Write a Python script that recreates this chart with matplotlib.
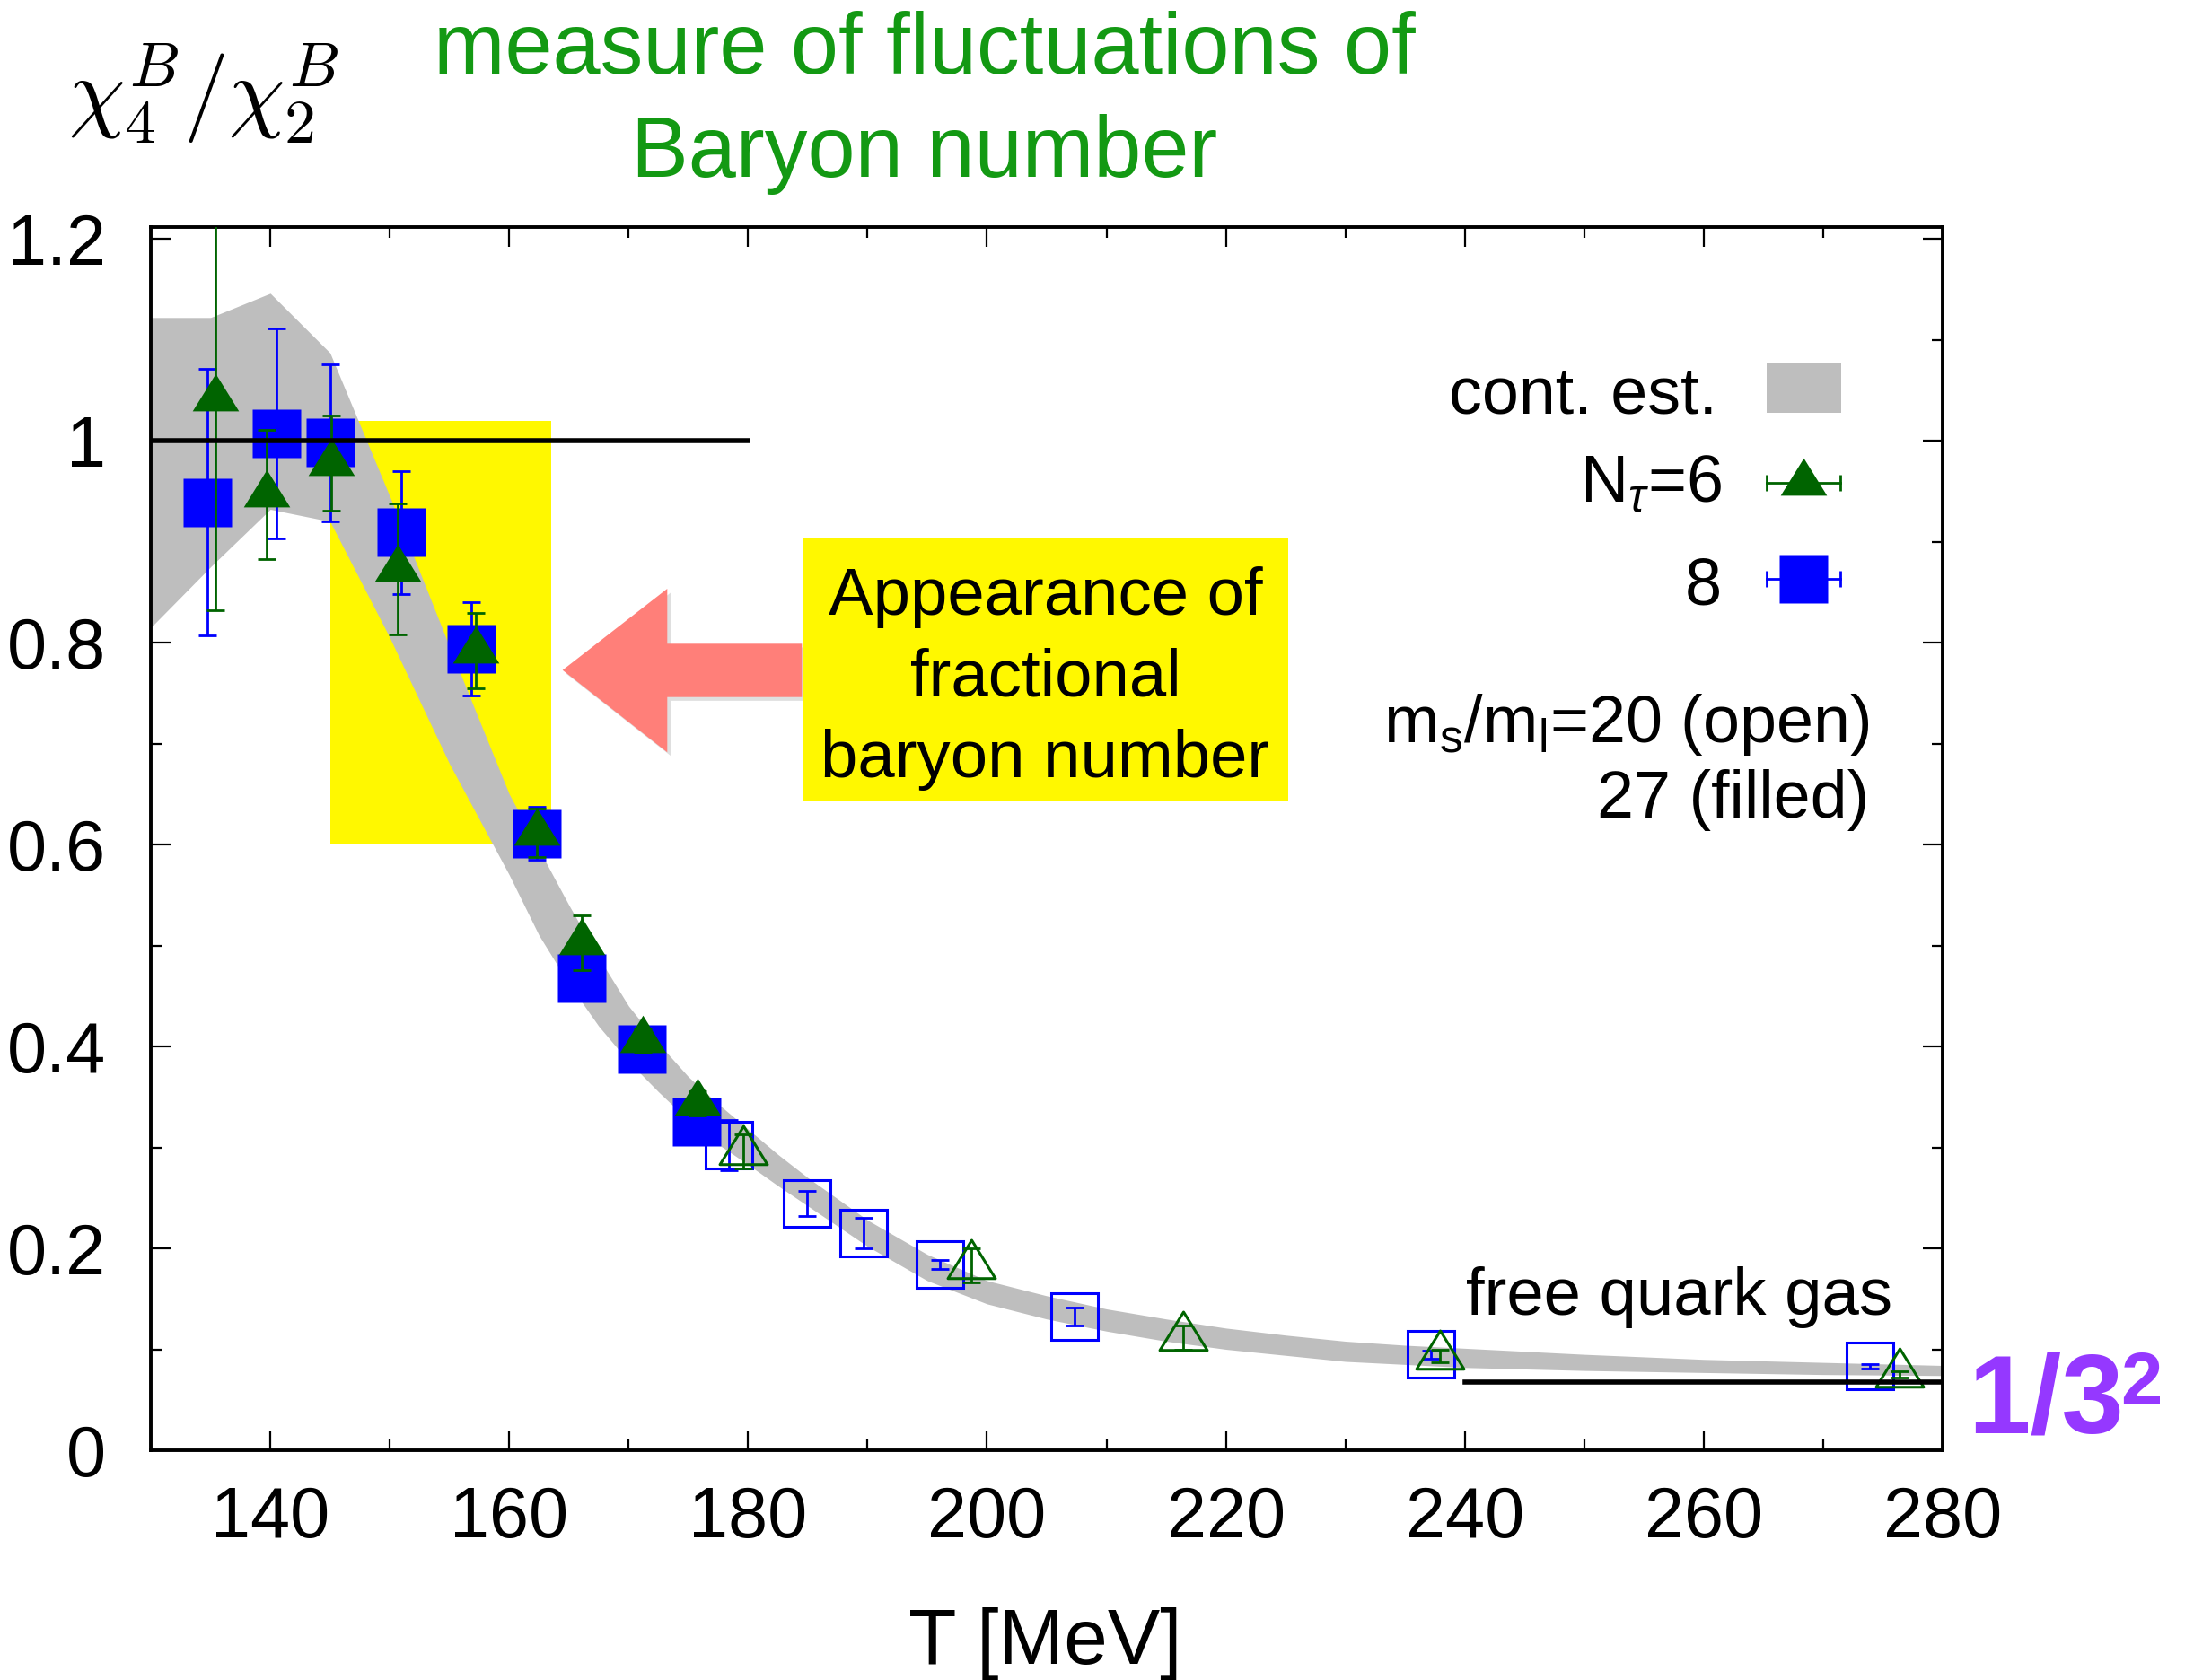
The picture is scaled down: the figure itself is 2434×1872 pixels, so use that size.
import numpy as np
import matplotlib
matplotlib.use("Agg")
import matplotlib.pyplot as plt
from matplotlib.patches import Rectangle, Polygon
from matplotlib.path import Path
from matplotlib.ticker import MultipleLocator, FuncFormatter
import matplotlib.patheffects as pe

plt.rcParams['font.family'] = ['Liberation Sans', 'DejaVu Sans']
plt.rcParams['mathtext.fontset'] = 'custom'
plt.rcParams['mathtext.rm'] = 'Liberation Sans'
plt.rcParams['mathtext.it'] = 'Liberation Sans:italic'
plt.rcParams['mathtext.bf'] = 'Liberation Sans:bold'

# continuum estimate (grey band): lower / upper edge
band_T  = [130, 135, 140, 145, 150, 155, 160, 162.5, 165, 167.5, 170, 172.5,
           175, 177.5, 180, 182.5, 185, 190, 195, 200, 205, 210, 215, 220,
           225, 230, 235, 240, 250, 260, 270, 280]
band_lo = [0.815, 0.875, 0.932, 0.920, 0.805, 0.680, 0.570, 0.510, 0.462,
           0.420, 0.385, 0.355, 0.327, 0.303, 0.283, 0.262, 0.242, 0.202,
           0.168, 0.145, 0.130, 0.118, 0.108, 0.100, 0.094, 0.088, 0.085,
           0.082, 0.079, 0.077, 0.075, 0.074]
band_hi = [1.122, 1.122, 1.146, 1.087, 0.945, 0.796, 0.650, 0.595, 0.540,
           0.488, 0.440, 0.403, 0.370, 0.343, 0.318, 0.293, 0.270, 0.228,
           0.194, 0.168, 0.153, 0.140, 0.130, 0.121, 0.114, 0.108, 0.104,
           0.101, 0.095, 0.090, 0.087, 0.084]

# N_tau = 6, ms/ml = 27 (filled triangles)
T6_27   = [135.4, 139.7, 145.1, 150.7, 157.2, 162.3, 166.05, 171.2, 175.8]
chi6_27 = [1.042, 0.947, 0.978, 0.873, 0.792, 0.612, 0.503, 0.406, 0.344]
err6_27 = [0.210, 0.064, 0.047, 0.065, 0.037, 0.024, 0.027, 0.012, 0.012]

# N_tau = 8, ms/ml = 27 (filled squares)
T8_27   = [134.7, 140.5, 145.0, 151.0, 156.85, 162.3, 166.05, 171.1, 175.7]
chi8_27 = [0.939, 1.007, 0.998, 0.909, 0.794, 0.611, 0.468, 0.397, 0.325]
err8_27 = [0.132, 0.104, 0.078, 0.061, 0.046, 0.026, 0.010, 0.010, 0.010]

# N_tau = 8, ms/ml = 20 (open squares)
T8_20   = [178.4, 184.95, 189.66, 196.06, 207.36, 237.15, 273.95]
chi8_20 = [0.302, 0.2445, 0.2151, 0.1843, 0.1325, 0.095, 0.0833]
err8_20 = [0.025, 0.0125, 0.0155, 0.0045, 0.009, 0.004, 0.002]

# N_tau = 6, ms/ml = 20 (open triangles)
T6_20   = [179.6, 198.65, 216.43, 237.9, 276.4]
chi6_20 = [0.2963, 0.183, 0.1117, 0.0933, 0.0753]
err6_20 = [0.017, 0.017, 0.012, 0.006, 0.003]

free_gas = 0.0675      # free quark gas limit
hrg_value = 1.0        # hadron resonance gas value

blue = '#0000ff'
dkgreen = '#006400'
grey = '#bebebe'
yellow = '#fff800'
title_green = '#139913'
purple = '#9538ff'

W, H = 2434, 1872
fig = plt.figure(figsize=(W / 200, H / 200), dpi=200)
ax = fig.add_axes([168 / W, 1 - 1616 / H, 1996 / W, 1363 / H])


def fx(x):
    return x / W


def fy(y):
    return 1 - y / H


# triangle marker centred on its centroid
tri = Path([(0, 0.538), (-0.5, -0.269), (0.5, -0.269), (0, 0)],
           [Path.MOVETO, Path.LINETO, Path.LINETO, Path.CLOSEPOLY])

ax.add_patch(Rectangle((145, 0.6), 18.5, 0.42, facecolor=yellow, lw=0, zorder=1))
ax.fill_between(band_T, band_lo, band_hi, color=grey, lw=0, zorder=2)

eb = dict(fmt='none', elinewidth=1.0, capsize=3.6, capthick=1.0)
ax.errorbar(T8_27, chi8_27, yerr=err8_27, ecolor=blue, zorder=3, **eb)
ax.plot(T8_27, chi8_27, ls='none', marker='s', ms=19.2, mfc=blue, mec='none', zorder=3)
ax.errorbar(T8_20, chi8_20, yerr=err8_20, ecolor=blue, zorder=3, **eb)
ax.plot(T8_20, chi8_20, ls='none', marker='s', ms=19, mfc='none', mec=blue, mew=1.1, zorder=3)

ax.plot(T6_27, chi6_27, ls='none', marker=tri, ms=20, mfc=dkgreen, mec='none', zorder=4)
ax.errorbar(T6_27, chi6_27, yerr=err6_27, ecolor=dkgreen, zorder=4, **eb)
ax.plot(T6_20, chi6_20, ls='none', marker=tri, ms=20.5, mfc='none', mec=dkgreen, mew=1.1, zorder=4)
ax.errorbar(T6_20, chi6_20, yerr=err6_20, ecolor=dkgreen, zorder=4, **eb)

ax.plot([130, 180], [hrg_value, hrg_value], color='black', lw=2, zorder=5)
ax.plot([240, 280], [free_gas, free_gas], color='black', lw=2, zorder=5)

ax.set_xlim(130, 280)
ax.set_ylim(0, 1.2116)
ax.xaxis.set_major_locator(MultipleLocator(20))
ax.xaxis.set_minor_locator(MultipleLocator(10))
ax.yaxis.set_major_locator(MultipleLocator(0.2))
ax.yaxis.set_minor_locator(MultipleLocator(0.1))
ax.yaxis.set_major_formatter(FuncFormatter(lambda v, p: f"{v:g}"))
ax.tick_params(which='both', direction='in', top=True, right=True, width=0.8,
               labelsize=28.5)
ax.tick_params(which='major', length=7.8)
ax.tick_params(which='minor', length=4.2)
ax.tick_params(axis='x', pad=14)
ax.tick_params(axis='y', pad=18)
for s in ax.spines.values():
    s.set_linewidth(1.4)

ax.text(240.1, 0.134, 'free quark gas', fontsize=26.8, ha='left', va='baseline', zorder=6)

# key, top right
ax.add_patch(Rectangle((0.9018, 0.848), 0.0416, 0.0415, transform=ax.transAxes,
                       facecolor=grey, lw=0, zorder=6))
ax.text(0.8742, 0.848, 'cont. est.', transform=ax.transAxes, fontsize=26.5,
        ha='right', va='baseline')
ax.text(0.8765, 0.7758, r'N$_\tau$=6', transform=ax.transAxes, fontsize=26.5,
        ha='right', va='baseline')
ax.text(0.8765, 0.6916, '8', transform=ax.transAxes, fontsize=26.5,
        ha='right', va='baseline')
for yk, col, mk, msz in [(0.791, dkgreen, tri, 20), (0.7121, blue, 's', 19.2)]:
    ax.plot([0.9018, 0.9431], [yk, yk], color=col, lw=1.0, marker='|', ms=6.5,
            mew=1.0, transform=ax.transAxes, clip_on=False, zorder=6)
    ax.plot([0.9223], [yk], marker=mk, ms=msz, mfc=col, mec='none', ls='none',
            transform=ax.transAxes, clip_on=False, zorder=6)
ax.text(0.9592, 0.5792, r'm$_\mathregular{s}$/m$_\mathregular{l}$=20 (open)',
        transform=ax.transAxes, fontsize=26.5, ha='right', va='baseline')
ax.text(0.9592, 0.5175, '27 (filled)', transform=ax.transAxes, fontsize=26.5,
        ha='right', va='baseline')

# headings
fig.text(fx(76), fy(105), r'$\chi_4^B/\chi_2^B$', math_fontfamily='cm',
         fontsize=36, ha='left', va='center')
fig.text(fx(1030), fy(81.7), 'measure of fluctuations of', color=title_green,
         fontsize=34.4, ha='center', va='baseline')
fig.text(fx(1030), fy(196.7), 'Baryon number', color=title_green,
         fontsize=34.4, ha='center', va='baseline')
fig.text(fx(1164), fy(1854), 'T [MeV]', fontsize=31.5, ha='center', va='baseline')

# 1/3^2 marker at the right edge
fig.text(fx(2191.7), fy(1596.7), '1/3', fontsize=45, weight='bold', color=purple,
         ha='left', va='baseline')
fig.text(fx(2362), fy(1565), '2', fontsize=30, weight='bold', color=purple,
         ha='left', va='baseline')

# annotation box and arrow
fig.patches.append(Rectangle((fx(894), fy(893.3)), fx(1435) - fx(894),
                             fy(600) - fy(893.3), transform=fig.transFigure,
                             facecolor=yellow, lw=0, zorder=8))
for txt, yb in [('Appearance of', 685), ('fractional', 775), ('baryon number', 866)]:
    fig.text(fx(1164.5), fy(yb), txt, fontsize=26.8, ha='center', va='baseline',
             zorder=9)

arrow_px = [(626.7, 746.7), (743.3, 656), (743.3, 717.3), (893.3, 717.3),
            (893.3, 776.7), (743.3, 776.7), (743.3, 838.3)]
arrow = Polygon([(fx(x), fy(y)) for x, y in arrow_px], closed=True,
                transform=fig.transFigure, facecolor='#ff7f79', lw=0, zorder=7)
arrow.set_path_effects([pe.SimplePatchShadow(offset=(1.5, -1.5), shadow_rgbFace='#808080',
                                             alpha=0.25), pe.Normal()])
fig.patches.append(arrow)

fig.savefig('out.png', dpi=200)
